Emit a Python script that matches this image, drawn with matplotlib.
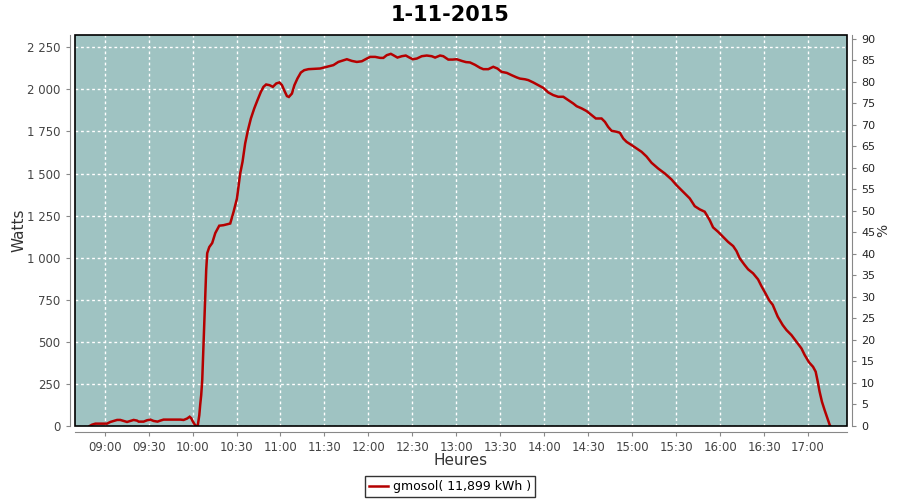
import matplotlib
matplotlib.use("Agg")
import matplotlib.pyplot as plt
from matplotlib.ticker import FuncFormatter, MultipleLocator
from matplotlib.patches import Rectangle

# ---- data (minutes after 09:00, watts) ----
minutes_after_9 = [
    -10.2, -8.6, -6.3, 1.6, 3.9, 6.1, 8.5, 10.7, 13.0, 15.3, 17.5, 19.8, 22.1, 23.2,
    26.6, 28.9, 31.2, 33.4, 36.1, 38.0, 40.2, 51.6, 53.9, 56.2, 58.0, 59.1, 60.0,
    61.2, 62.3, 63.5, 64.6, 65.2, 65.9, 66.6, 67.3, 68.0, 68.7, 69.3, 70.0, 71.4,
    73.4, 75.5, 78.2, 81.1, 85.7, 88.0, 90.3, 92.5, 94.1, 95.9, 97.8, 99.8, 102.1,
    104.3, 106.6, 108.4, 110.2, 112.5, 114.8, 117.1, 119.3, 121.0, 122.5, 124.4,
    125.7, 127.8, 129.5, 131.6, 133.9, 136.2, 139.1, 147.1, 151.6, 156.1, 159.5,
    163.0, 165.3, 168.7, 172.1, 175.5, 178.9, 181.2, 184.6, 188.0, 190.2, 192.5,
    195.3, 197.0, 199.8, 202.8, 205.5, 208.0, 210.3, 213.0, 216.4, 219.8, 223.2,
    225.5, 228.9, 231.1, 234.5, 237.5, 240.3, 243.7, 246.6, 249.3, 252.7, 256.2,
    258.4, 261.8, 265.2, 268.0, 270.9, 274.4, 277.8, 281.2, 283.4, 286.8, 289.1,
    292.5, 295.9, 299.3, 302.7, 306.1, 309.5, 313.0, 316.4, 319.8, 322.1, 325.5,
    328.9, 332.3, 335.2, 339.1, 341.4, 343.6, 345.9, 349.4, 351.6, 353.9, 356.2,
    359.6, 363.0, 366.4, 369.8, 373.2, 377.7, 382.3, 386.8, 390.2, 394.8, 399.3,
    402.7, 406.1, 409.5, 412.9, 415.2, 418.6, 422.0, 425.4, 428.9, 431.2, 433.4,
    436.8, 439.1, 442.5, 445.9, 448.2, 451.2, 453.4, 455.9, 459.3, 462.7, 465.3,
    468.7, 472.1, 475.5, 477.7, 480.7, 483.4, 485.2, 486.4, 487.9, 489.5, 491.3,
    493.2, 494.8, 495.2,
]
watts = [
    0, 8, 14, 14, 24, 30, 36, 36, 30, 24, 30, 36, 32, 26,
    26, 34, 38, 30, 26, 32, 38, 38, 36, 44, 55, 46, 30,
    12, 0, 0, 65, 125, 184, 273, 440, 612, 766, 926, 1027, 1063,
    1087, 1146, 1190, 1193, 1203, 1273, 1352, 1500, 1570, 1679, 1758, 1827, 1887,
    1936, 1985, 2015, 2029, 2025, 2015, 2035, 2041, 2025, 1995, 1960,
    1955, 1975, 2025, 2065, 2100, 2114, 2120, 2124, 2134, 2144, 2163,
    2173, 2179, 2169, 2163, 2167, 2183, 2193, 2193, 2187, 2187, 2203,
    2211, 2203, 2189, 2197, 2201, 2189, 2179, 2183, 2197, 2201, 2197,
    2189, 2201, 2197, 2177, 2177, 2179, 2169, 2162, 2160, 2146, 2128,
    2120, 2120, 2134, 2124, 2104, 2098, 2084, 2071, 2064, 2060, 2055,
    2041, 2025, 2009, 1982, 1966, 1956, 1956, 1936, 1916, 1900, 1887,
    1871, 1847, 1827, 1827, 1807, 1777, 1754, 1748, 1742, 1708, 1688,
    1669, 1649, 1629, 1601, 1564, 1530, 1500, 1465, 1431, 1391, 1352,
    1306, 1287, 1273, 1223, 1180, 1154, 1124, 1094, 1069, 1039, 996,
    956, 931, 907, 871, 831, 784, 748, 720, 650, 600, 570,
    540, 500, 461, 422, 378, 352, 323, 273, 204, 144, 95,
    46, 6, 0,
]
series_label = "gmosol( 11,899 kWh )"
title = "1-11-2015"
x_ticks = ["09:00", "09:30", "10:00", "10:30", "11:00", "11:30", "12:00", "12:30",
           "13:00", "13:30", "14:00", "14:30", "15:00", "15:30", "16:00", "16:30", "17:00"]

hours = [9 + m / 60.0 for m in minutes_after_9]
tick_hours = [int(t[:2]) + int(t[3:]) / 60.0 for t in x_ticks]

# ---- figure ----
fig = plt.figure(figsize=(9, 5), dpi=100)
ax = fig.add_axes([0.0837, 0.148, 0.8571, 0.782])
ax.set_facecolor("#9fc3c2")

ax.plot(hours, watts, color="#b50000", lw=1.8, solid_joinstyle="miter", zorder=3)

ax.set_xlim(8 + 40 / 60, 17 + 26.4 / 60)
ax.set_ylim(0, 2323)

ax.set_xticks(tick_hours)
ax.set_xticklabels(x_ticks)
ax.yaxis.set_major_locator(MultipleLocator(250))
ax.yaxis.set_major_formatter(FuncFormatter(lambda v, p: f"{int(v):,}".replace(",", " ")))

ax.grid(True, color="white", lw=1.0, linestyle=(0, (2, 2)))
ax.set_axisbelow(True)

tick_col = "#444444"
spine_col = "#888888"
for s in ["left", "bottom"]:
    ax.spines[s].set_position(("outward", 4))
    ax.spines[s].set_color(spine_col)
ax.spines["top"].set_visible(False)
ax.spines["right"].set_visible(False)
ax.tick_params(axis="both", colors=spine_col, labelcolor=tick_col, length=3, labelsize=8.5)
ax.add_patch(Rectangle((0, 0), 1, 1, transform=ax.transAxes, fill=False,
                       edgecolor="black", lw=1.2, zorder=5, clip_on=False))

ax.set_ylabel("Watts", fontsize=11, color="#333333")
ax.yaxis.set_label_coords(-0.063, 0.5)
ax.set_xlabel("Heures", fontsize=11, color="#333333")
ax.xaxis.set_label_coords(0.5, -0.068)

ax2 = ax.twinx()
ax2.set_ylim(0, 90.9)
ax2.yaxis.set_major_locator(MultipleLocator(5))
for s in ["left", "bottom", "top"]:
    ax2.spines[s].set_visible(False)
ax2.spines["right"].set_position(("outward", 4))
ax2.spines["right"].set_color(spine_col)
ax2.tick_params(axis="y", colors=spine_col, labelcolor="#222222", length=3, labelsize=8)
ax2.set_ylabel("%", fontsize=10, color="#333333")
ax2.yaxis.set_label_coords(1.038, 0.5)

fig.suptitle(title, fontsize=15, fontweight="bold", y=0.99)

leg = fig.legend(handles=ax.get_lines(), labels=[series_label], loc="lower center",
                 bbox_to_anchor=(0.5, -0.006), fontsize=9, frameon=True, fancybox=False,
                 handlelength=1.5, handletextpad=0.4, borderpad=0.3)
leg.get_frame().set_edgecolor("black")
leg.get_frame().set_linewidth(1.0)

fig.savefig("out.png", dpi=100, facecolor="white")
